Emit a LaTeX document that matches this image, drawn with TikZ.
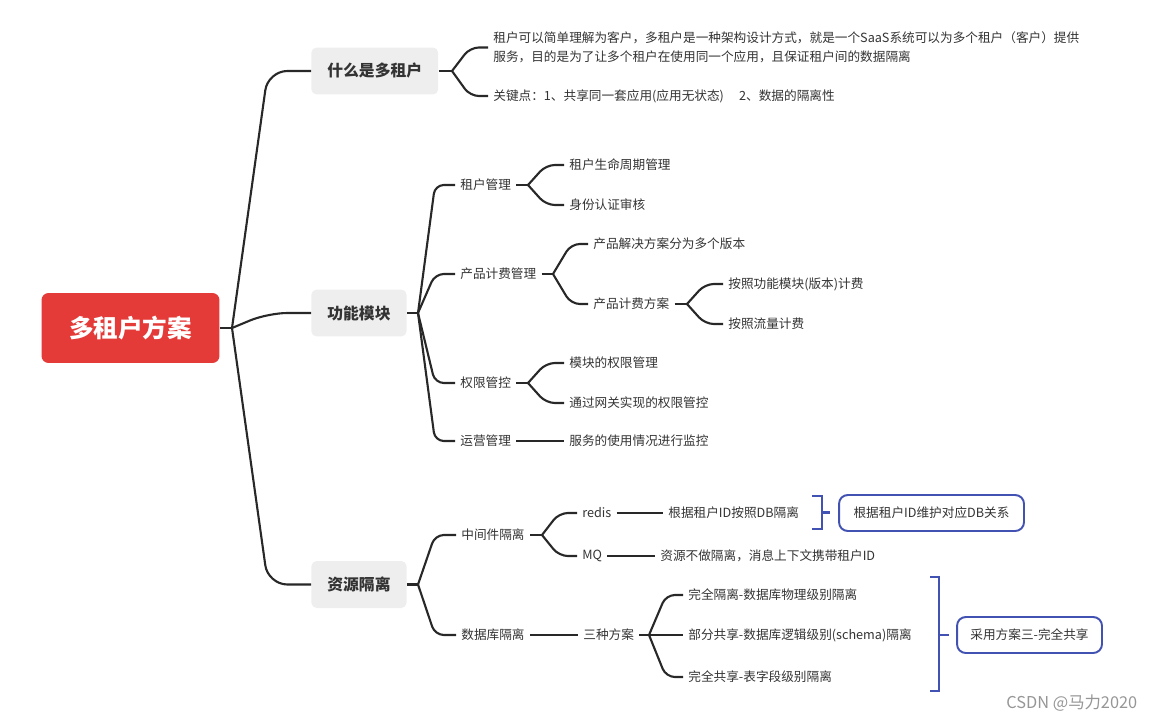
\documentclass[tikz,border=0pt]{standalone}
\usepackage{fontspec}
\setmainfont{Noto Sans CJK SC}
\usepackage{tikz}
\usetikzlibrary{positioning,calc}
\definecolor{ink}{RGB}{51,51,51}
\definecolor{wire}{RGB}{40,40,40}
\definecolor{rootred}{RGB}{228,58,56}
\definecolor{topicgray}{RGB}{238,238,238}
\definecolor{noteblue}{RGB}{66,82,178}
\definecolor{markgray}{RGB}{150,150,150}
\tikzset{
  rootbox/.style={fill=rootred, rounded corners=4pt, text=white, align=center,
    minimum width=3.56cm, minimum height=1.4cm, font=\fontsize{14}{16}\selectfont\bfseries},
  topic/.style={fill=topicgray, rounded corners=3pt, text=ink, inner xsep=0.32cm,
    minimum height=0.94cm, font=\fontsize{9}{11}\selectfont\bfseries},
  leaf/.style={anchor=west, text=ink, inner xsep=0.1cm, inner ysep=1pt,
    font=\fontsize{7.2}{10.8}\selectfont},
  note/.style={draw=noteblue, fill=white, rounded corners=5pt, text=ink, line width=1.1pt,
    minimum height=0.72cm, font=\fontsize{7.2}{9}\selectfont},
  link/.style={draw=wire, line width=1.2pt, rounded corners=5pt},
  trunk/.style={link, rounded corners=11pt},
  summary/.style={draw=noteblue, line width=1.2pt},
}

\begin{document}
\begin{tikzpicture}[x=0.02cm, y=-0.02cm]
  \useasboundingbox (0,0) rectangle (1151,719);
  % root and main topics
  \node[rootbox] (root) at (130.5,328) {多租户方案};
  \node[topic, anchor=west] (what) at (311,71) {什么是多租户};
  \node[topic, anchor=west] (func) at (311,313) {功能模块};
  \node[topic, anchor=west] (res) at (311,584.5) {资源隔离};
  \coordinate (fk-root) at (232,328);
  \coordinate (kn-root) at (268,0);
  \draw[link] (root.east) -- (fk-root);
  \foreach \t in {what,func,res}
    \draw[trunk] (fk-root) -- (kn-root |- \t.west) -- (\t.west);

  % what is multi-tenant
  \node[leaf, align=left] (what-def) at (488,47.5)
    {租户可以简单理解为客户，多租户是一种架构设计方式，就是一个SaaS系统可以为多个租户（客户）提供\\
     服务，目的是为了让多个租户在使用同一个应用，且保证租户间的数据隔离};
  \node[leaf] (what-key) at (488,96) {关键点：1、共享同一套应用(应用无状态)\hspace{1.2em}2、数据的隔离性};
  \coordinate (fk-what) at (452,71);
  \coordinate (kn-what) at (470,0);
  \draw[link] (what.east) -- (fk-what);
  \foreach \t in {what-def,what-key}
    \draw[link] (fk-what) -- (kn-what |- \t.west) -- (\t.west);

  % function modules
  \node[leaf] (ten) at (455,185) {租户管理};
  \node[leaf] (prod) at (455,274) {产品计费管理};
  \node[leaf] (perm) at (455,383) {权限管控};
  \node[leaf] (ops) at (455,441) {运营管理};
  \coordinate (fk-func) at (418,313);
  \coordinate (kn-func) at (435,0);
  \draw[link] (func.east) -- (fk-func);
  \foreach \t in {ten,prod,perm,ops}
    \draw[link] (fk-func) -- (kn-func |- \t.west) -- (\t.west);

  \node[leaf] (ten-life) at (564,165) {租户生命周期管理};
  \node[leaf] (ten-auth) at (564,205) {身份认证审核};
  \coordinate (fk-ten) at (528,185);
  \coordinate (kn-ten) at (546,0);
  \draw[link] (ten.east) -- (fk-ten);
  \foreach \t in {ten-life,ten-auth}
    \draw[link] (fk-ten) -- (kn-ten |- \t.west) -- (\t.west);

  \node[leaf] (prod-ver) at (588,244) {产品解决方案分为多个版本};
  \node[leaf] (plan) at (588,304) {产品计费方案};
  \coordinate (fk-prod) at (553,274);
  \coordinate (kn-prod) at (571,0);
  \draw[link] (prod.east) -- (fk-prod);
  \foreach \t in {prod-ver,plan}
    \draw[link] (fk-prod) -- (kn-prod |- \t.west) -- (\t.west);

  \node[leaf] (plan-mod) at (723,284) {按照功能模块(版本)计费};
  \node[leaf] (plan-flow) at (723,324) {按照流量计费};
  \coordinate (fk-plan) at (687,304);
  \coordinate (kn-plan) at (705,0);
  \draw[link] (plan.east) -- (fk-plan);
  \foreach \t in {plan-mod,plan-flow}
    \draw[link] (fk-plan) -- (kn-plan |- \t.west) -- (\t.west);

  \node[leaf] (perm-mod) at (564,363) {模块的权限管理};
  \node[leaf] (perm-gw) at (564,403) {通过网关实现的权限管控};
  \coordinate (fk-perm) at (528,383);
  \coordinate (kn-perm) at (546,0);
  \draw[link] (perm.east) -- (fk-perm);
  \foreach \t in {perm-mod,perm-gw}
    \draw[link] (fk-perm) -- (kn-perm |- \t.west) -- (\t.west);

  \node[leaf] (ops-mon) at (564,441) {服务的使用情况进行监控};
  \draw[link] (ops.east) -- (ops-mon.west);

  % resource isolation
  \node[leaf] (mid) at (456,535) {中间件隔离};
  \node[leaf] (db) at (456,635) {数据库隔离};
  \coordinate (fk-res) at (418,584.5);
  \coordinate (kn-res) at (435,0);
  \draw[link] (res.east) -- (fk-res);
  \foreach \t in {mid,db}
    \draw[link] (fk-res) -- (kn-res |- \t.west) -- (\t.west);

  \node[leaf] (redis) at (577,513) {redis};
  \node[leaf] (mq) at (577,556) {MQ};
  \coordinate (fk-mid) at (542,535);
  \coordinate (kn-mid) at (559,0);
  \draw[link] (mid.east) -- (fk-mid);
  \foreach \t in {redis,mq}
    \draw[link] (fk-mid) -- (kn-mid |- \t.west) -- (\t.west);
  \node[leaf] (redis-db) at (663,513) {根据租户ID按照DB隔离};
  \node[leaf] (mq-ctx) at (655,556) {资源不做隔离，消息上下文携带租户ID};
  \draw[link] (redis.east) -- (redis-db.west);
  \draw[link] (mq.east) -- (mq-ctx.west);

  \node[leaf] (three) at (578,635) {三种方案};
  \draw[link] (db.east) -- (three.west);
  \node[leaf] (full-iso) at (683,595) {完全隔离-数据库物理级别隔离};
  \node[leaf] (part-share) at (683,635) {部分共享-数据库逻辑级别(schema)隔离};
  \node[leaf] (full-share) at (683,677) {完全共享-表字段级别隔离};
  \coordinate (fk-three) at (649,635);
  \coordinate (kn-three) at (666,0);
  \draw[link] (three.east) -- (fk-three);
  \foreach \t in {full-iso,part-share,full-share}
    \draw[link] (fk-three) -- (kn-three |- \t.west) -- (\t.west);

  % summaries
  \coordinate (sm-redis) at (822,512.5);
  \draw[summary] ($(sm-redis)+(-10,-16.5)$) -| ($(sm-redis)+(0,16.5)$) -- ++(-10,0);
  \draw[summary] (sm-redis) -- ++(8,0);
  \node[note, minimum width=3.7cm] (n-redis) at (931.5,513) {根据租户ID维护对应DB关系};

  \coordinate (sm-db) at (939,635);
  \draw[summary] ($(sm-db)+(-9,-58)$) -| ($(sm-db)+(0,56)$) -- ++(-9,0);
  \draw[summary] (sm-db) -- ++(10,0);
  \node[note, minimum width=2.9cm] (n-db) at (1029.5,635) {采用方案三-完全共享};

  \node[text=markgray, anchor=west, inner sep=0, font=\fontsize{9.3}{11}\selectfont] (mark) at (1006,703) {CSDN @马力2020};
\end{tikzpicture}
\end{document}
